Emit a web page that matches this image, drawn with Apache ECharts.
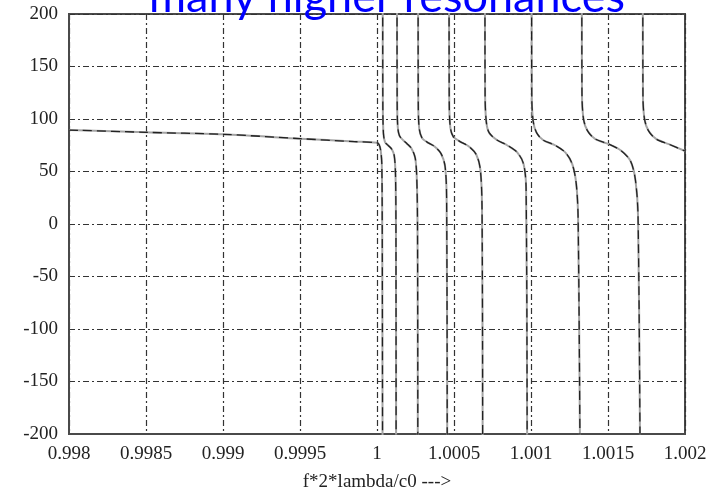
<!DOCTYPE html>
<html>
<head>
<meta charset="utf-8">
<script src="https://cdn.jsdelivr.net/npm/echarts@6/dist/echarts.min.js"></script>
<style>
  html, body { margin: 0; padding: 0; background: #ffffff; }
  #chart { width: 712px; height: 499px; }
</style>
</head>
<body>
<div id="chart"></div>
<script>
// Phase response vs. normalised frequency, one [f, phase] list per resonance branch.
const branchBelow = [[0.998, 89.5], [0.9985, 87.3], [0.999, 85.4], [0.9995, 81.3], [0.99985, 78.5], [1.0, 77.4], [1.000014, 75.5], [1.000024, 70], [1.000031, 58], [1.000034, 0], [1.000036, -210]];
const branch1 = [[1.000037, 210], [1.000038, 110], [1.000042, 86], [1.000052, 78], [1.000075, 74.5], [1.000097, 71], [1.000112, 65], [1.00012, 48], [1.000123, 0], [1.000124, -210]];
const branch2 = [[1.00013, 210], [1.000131, 115], [1.000135, 92], [1.000146, 84], [1.000172, 79.5], [1.000195, 76.5], [1.000224, 72], [1.000248, 63], [1.000258, 45], [1.000263, 0], [1.000265, -210]];
const branch3 = [[1.000267, 210], [1.000268, 115], [1.000274, 91], [1.000292, 82], [1.000325, 78], [1.000372, 74], [1.000416, 67], [1.000442, 55], [1.000452, 25], [1.000456, -210]];
const branch4 = [[1.000468, 210], [1.000469, 118], [1.000476, 92], [1.000496, 83], [1.000539, 78.5], [1.000595, 74], [1.000645, 66], [1.000671, 52], [1.000682, 15], [1.000686, -210]];
const branch5 = [[1.000701, 210], [1.000702, 122], [1.00071, 97], [1.000728, 87], [1.000779, 80], [1.000845, 75], [1.000912, 68], [1.000952, 57], [1.000968, 35], [1.000975, -210]];
const branch6 = [[1.001004, 210], [1.001005, 122], [1.001014, 98], [1.001036, 87], [1.001078, 80], [1.001156, 75], [1.001224, 68], [1.001268, 57], [1.001294, 38], [1.001306, 5], [1.001318, -210]];
const branch7 = [[1.00133, 210], [1.001331, 124], [1.001341, 100], [1.001366, 89], [1.001416, 81], [1.001506, 76], [1.001584, 70], [1.001646, 60], [1.001678, 42], [1.001695, 8], [1.001708, -210]];
const branch8 = [[1.001726, 210], [1.001727, 122], [1.001737, 100], [1.001762, 89], [1.001812, 81], [1.001895, 76], [1.002, 69.5]];

const branches = [branchBelow, branch1, branch2, branch3, branch4, branch5, branch6, branch7, branch8];

const xTickLabels = ['0.998', '0.9985', '0.999', '0.9995', '1', '1.0005', '1.001', '1.0015', '1.002'];
const yTickLabels = ['-200', '-150', '-100', '-50', '0', '50', '100', '150', '200'];

const serif = '"Liberation Serif", "Times New Roman", serif';
const gridDash = [6, 3, 2, 3];

const series = [];
branches.forEach(function (pts) {
  // light solid trace underneath
  series.push({
    type: 'line', data: pts, symbol: 'none', silent: true, animation: false,
    smooth: 0.3,
    lineStyle: { color: '#a4a4a4', width: 2 }
  });
  // dark dashed trace on top
  series.push({
    type: 'line', data: pts, symbol: 'none', silent: true, animation: false,
    smooth: 0.3,
    lineStyle: { color: '#222222', width: 1.3, type: [9, 5] }
  });
});

const chart = echarts.init(document.getElementById('chart'), null, { renderer: 'canvas' });
chart.setOption({
  backgroundColor: '#ffffff',
  animation: false,
  grid: { left: 69, right: 27, top: 14, bottom: 65, show: true, borderColor: '#4a4a4a', borderWidth: 2, backgroundColor: 'transparent' },
  graphic: [{
    type: 'text', x: 387, y: 20, z: 100,
    style: { text: 'many higher resonances', fill: '#0000ff', fontFamily: 'Lato, "Open Sans", sans-serif', fontSize: 45, align: 'center', verticalAlign: 'bottom' }
  }],
  xAxis: {
    type: 'value', min: 0.998, max: 1.002, interval: 0.0005,
    name: 'f*2*lambda/c0 --->', nameLocation: 'middle', nameGap: 39,
    nameTextStyle: { fontFamily: serif, fontSize: 19, color: '#222' },
    axisLine: { show: true, onZero: false, lineStyle: { color: '#4a4a4a', width: 2 } },
    axisTick: { show: false },
    axisLabel: {
      fontFamily: serif, fontSize: 19, color: '#222', margin: 11,
      formatter: function (v, i) { return xTickLabels[i]; }
    },
    splitLine: { show: true, lineStyle: { color: '#333', width: 1.2, type: gridDash } }
  },
  yAxis: {
    type: 'value', min: -200, max: 200, interval: 50,
    axisLine: { show: true, onZero: false, lineStyle: { color: '#4a4a4a', width: 2 } },
    axisTick: { show: false },
    axisLabel: {
      fontFamily: serif, fontSize: 19, color: '#222', margin: 11,
      formatter: function (v, i) { return yTickLabels[i]; }
    },
    splitLine: { show: true, lineStyle: { color: '#333', width: 1.2, type: gridDash } }
  },
  series: series
});
</script>
</body>
</html>
